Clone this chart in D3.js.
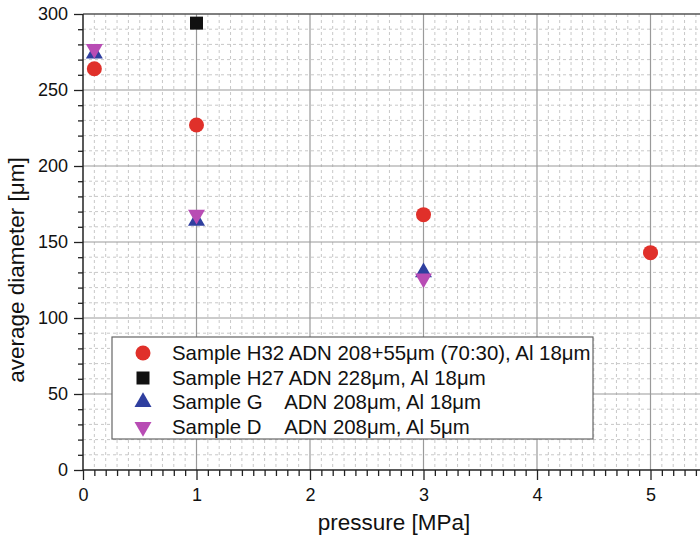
<!DOCTYPE html>
<html><head><meta charset="utf-8">
<script src="https://cdn.jsdelivr.net/npm/d3@7"></script>
<style>body{margin:0;background:#fff}svg{display:block;font-family:"Liberation Sans",Arial,sans-serif}</style>
</head><body><svg id="c" width="700" height="538"></svg>
<script>
const seriesNames = ["Sample H32 ADN 208+55μm (70:30), Al 18μm","Sample H27 ADN 228μm, Al 18μm","Sample G","Sample D"];
const seriesRest = [null, null, "ADN 208μm, Al 18μm", "ADN 208μm, Al 5μm"];
const h32X = [0.1, 1, 3, 5];
const h32Y = [264, 227, 168, 143];
const h27X = [1];
const h27Y = [294];
const gX = [0.1, 1, 3];
const gY = [274, 164, 130];
const dX = [0.1, 1, 3];
const dY = [277, 168, 126];
const xTicks = [0,1,2,3,4,5];
const yTicks = [0,50,100,150,200,250,300];

const svg = d3.select("#c");
const L=83, R=700, T=14, B=470;
const x = d3.scaleLinear().domain([0, (R-L)/113.5]).range([L,R]);
const y = d3.scaleLinear().domain([0,300]).range([B,T]);

const minorX = d3.range(1, Math.floor(x.domain()[1]*10)+1).map(i=>i/10).filter(v=>Math.abs(v-Math.round(v))>1e-6);
const minorY = d3.range(10,300,10).filter(v=>v%50!==0);
const g = svg.append("g");
g.selectAll(".mx").data(minorX).join("line").attr("x1",d=>x(d)).attr("x2",d=>x(d)).attr("y1",T).attr("y2",B)
 .attr("stroke","#c8c8c8").attr("stroke-dasharray","3,3");
g.selectAll(".my").data(minorY).join("line").attr("x1",L).attr("x2",R).attr("y1",d=>y(d)).attr("y2",d=>y(d))
 .attr("stroke","#c8c8c8").attr("stroke-dasharray","3,3");
g.selectAll(".Mx").data(xTicks.filter(d=>d>0)).join("line").attr("x1",d=>x(d)).attr("x2",d=>x(d)).attr("y1",T).attr("y2",B)
 .attr("stroke","#9a9a9a").attr("stroke-width",1.2);
g.selectAll(".My").data(yTicks.filter(d=>d>0&&d<300)).join("line").attr("x1",L).attr("x2",R).attr("y1",d=>y(d)).attr("y2",d=>y(d))
 .attr("stroke","#9a9a9a").attr("stroke-width",1.2);
svg.append("line").attr("x1",L).attr("x2",R).attr("y1",T).attr("y2",T).attr("stroke","#555").attr("stroke-width",1.5);

const xMinorAxis = d3.axisBottom(x).tickValues(minorX).tickSize(6).tickFormat("");
const xAxis = d3.axisBottom(x).tickValues(xTicks).tickSize(10).tickPadding(8).tickFormat(d3.format("d"));
const yMinorAxis = d3.axisLeft(y).tickValues(minorY).tickSize(5).tickFormat("");
const yAxis = d3.axisLeft(y).tickValues(yTicks).tickSize(9).tickPadding(6).tickFormat(d3.format("d"));
function style(sel){sel.select(".domain").remove();sel.selectAll("line").attr("stroke","#222").attr("stroke-width",1.3);
  sel.selectAll("text").attr("fill","#111").style("font-size","18px").style("font-family","'Liberation Sans',Arial,sans-serif");}
svg.append("g").attr("transform",`translate(0,${B})`).call(xMinorAxis).call(style);
svg.append("g").attr("transform",`translate(0,${B})`).call(xAxis).call(style);
svg.append("g").attr("transform",`translate(${L},0)`).call(yMinorAxis).call(style);
svg.append("g").attr("transform",`translate(${L},0)`).call(yAxis).call(style);
svg.append("line").attr("x1",L).attr("x2",R).attr("y1",B).attr("y2",B).attr("stroke","#222").attr("stroke-width",1.5);
svg.append("line").attr("x1",L).attr("x2",L).attr("y1",T).attr("y2",B).attr("stroke","#222").attr("stroke-width",1.5);

svg.append("text").attr("x",394).attr("y",530).attr("text-anchor","middle").style("font-size","22.5px").attr("fill","#111").text("pressure [MPa]");
svg.append("text").attr("transform","translate(24,270) rotate(-90)").attr("text-anchor","middle").style("font-size","22.5px").attr("fill","#111").text("average diameter [μm]");

const colors = ["#e0302a","#111111","#2f3f9f","#b84cb4"];
const sym = [
  d3.symbol().type(d3.symbolCircle).size(Math.PI*7.5*7.5),
  d3.symbol().type(d3.symbolSquare).size(13*13),
  d3.symbol().type(d3.symbolTriangle).size(125),
  d3.symbol().type(d3.symbolTriangle).size(125)
];
const rot = [0,0,0,180];
const data = [[h32X,h32Y],[h27X,h27Y],[gX,gY],[dX,dY]];
[0,1,2,3].forEach(i=>{
  const pts = data[i][0].map((v,k)=>[v,data[i][1][k]]);
  svg.append("g").selectAll("path").data(pts).join("path")
   .attr("transform",d=>`translate(${x(d[0])},${y(d[1])}) rotate(${rot[i]})`)
   .attr("d",sym[i]()).attr("fill",colors[i]);
});

const lg = svg.append("g");
lg.append("rect").attr("x",112).attr("y",337).attr("width",481).attr("height",102).attr("fill","#fff").attr("stroke","#666").attr("stroke-width",1.2);
const rowsY=[353,378,402,427];
const fs = "20.4px";
const tmp = lg.append("text").style("font-size",fs).text("Sample H27 ");
const restX = 172 + tmp.node().getComputedTextLength();
tmp.remove();
seriesNames.forEach((n,i)=>{
  lg.append("path").attr("transform",`translate(143,${rowsY[i]}) rotate(${rot[i]})`).attr("d",sym[i]()).attr("fill",colors[i]);
  const t = lg.append("text").attr("x",172).attr("y",rowsY[i]+7).style("font-size",fs).attr("fill","#111");
  t.append("tspan").text(n);
  if(seriesRest[i]) t.append("tspan").attr("x",restX).text(seriesRest[i]);
});
</script></body></html>
